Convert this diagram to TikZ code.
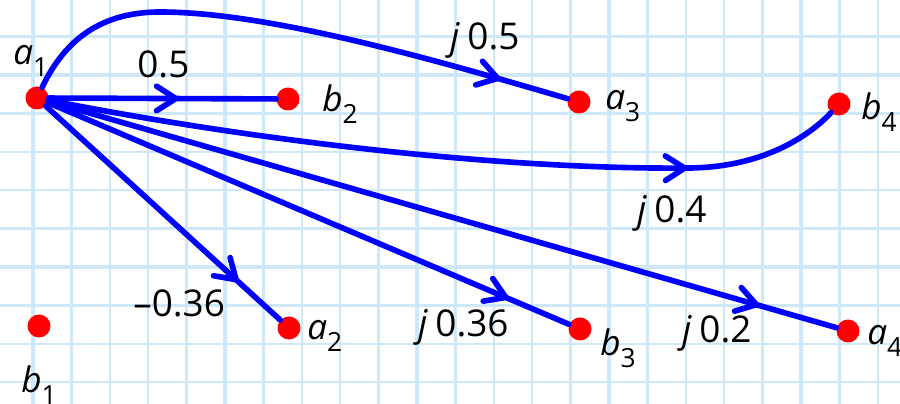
\documentclass[tikz,border=0pt]{standalone}
\usepackage{fontspec}
\setmainfont{Open Sans}
\usetikzlibrary{arrows.meta, decorations.markings}
\definecolor{gridblue}{RGB}{206,232,250}
\newcommand{\vlab}[2]{{\itshape #1}\raisebox{-0.6ex}{\fontsize{15}{15}\selectfont #2}}

\begin{document}
\begin{tikzpicture}[x=0.02cm, y=-0.02cm,
  dot/.style={circle, fill=red, inner sep=0pt, minimum size=0.46cm},
  flow/.style={draw=blue, line width=3.2pt, line cap=round, postaction={decorate},
    decoration={markings, mark=at position #1 with {\arrow{Straight Barb[length=11pt, width=14pt, round]}}}},
  wt/.style={anchor=base west, inner sep=0pt, font=\fontsize{21}{25}\selectfont},
  vl/.style={anchor=base west, inner sep=0pt, font=\fontsize{20}{24}\selectfont}]
  \fill[white] (0,0) rectangle (900,404);
  \useasboundingbox (0,0) rectangle (900,404);

  % graph paper
  \foreach \k in {0,...,22}
    \draw[gridblue, line width=1.3pt] ({33+38.4*\k},0) -- ({33+38.4*\k},404);
  \foreach \k in {-1,...,8}
    \draw[gridblue, line width=1.3pt] (0,{75+38.4*\k}) -- (900,{75+38.4*\k});
  \foreach \gx in {33,225,417,609,801}
    \draw[gridblue, line width=2.8pt] (\gx,0) -- (\gx,404);
  \foreach \gy in {75,267}
    \draw[gridblue, line width=2.8pt] (0,\gy) -- (900,\gy);

  % variables
  \node[dot] (a1) at (37,98) {};
  \node[dot] (b2) at (288,99) {};
  \node[dot] (a3) at (579,102) {};
  \node[dot] (b4) at (839,104) {};
  \node[dot] (b1) at (39,326) {};
  \node[dot] (a2) at (289,328) {};
  \node[dot] (b3) at (580,329) {};
  \node[dot] (a4) at (848,331) {};

  \node[vl] (a1l) at (13,65) {\vlab{a}{1}};
  \node[vl] (b2l) at (322,112) {\vlab{b}{2}};
  \node[vl] (a3l) at (605,110) {\vlab{a}{3}};
  \node[vl] (b4l) at (861,120) {\vlab{b}{4}};
  \node[vl] (b1l) at (21,393) {\vlab{b}{1}};
  \node[vl] (a2l) at (307,340) {\vlab{a}{2}};
  \node[vl] (b3l) at (600,356) {\vlab{b}{3}};
  \node[vl] (a4l) at (867,345) {\vlab{a}{4}};

  % branches
  \draw[flow=-1.95cm] (a1) -- (b2);
  \draw[flow=-1.4cm] (a1) .. controls (62,46) and (95,12) .. (160,12)
    .. controls (270,12) and (439,61) .. (a3);
  \draw[flow=-3.16cm] (a1) .. controls (250,140) and (500,170) .. (690,168)
    .. controls (770,167) and (815,130) .. (b4);
  \draw[flow=-1.14cm] (a1) -- (a2);
  \draw[flow=-1.32cm] (a1) -- (b3);
  \draw[flow=-1.61cm] (a1) -- (a4);

  % gains
  \node[wt] (w12) at (137,78) {0.5};
  \node[wt] (w13) at (450,50) {\textit{j}\hspace{0.2em}0.5};
  \node[wt] (w14) at (637,223) {\textit{j}\hspace{0.2em}0.4};
  \node[wt] (w22) at (133,317) {–0.36};
  \node[wt] (w23) at (418,337) {\textit{j}\hspace{0.2em}0.36};
  \node[wt] (w24) at (682,343) {\textit{j}\hspace{0.2em}0.2};
\end{tikzpicture}
\end{document}
